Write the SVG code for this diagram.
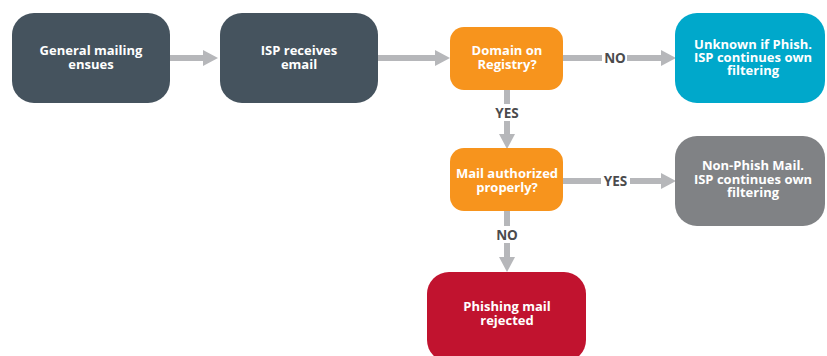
<svg xmlns="http://www.w3.org/2000/svg" width="827" height="356" viewBox="0 0 827 356">
<style>
.t{font-family:"Open Sans","Liberation Sans",sans-serif;font-weight:bold;font-size:13px;fill:#ffffff;text-anchor:middle}
.l{font-family:"Open Sans","Liberation Sans",sans-serif;font-weight:bold;font-size:13.5px;fill:#4b4b4d;text-anchor:middle}
.c{stroke:#b6b7ba;stroke-width:6;fill:none}
</style>
<defs>
<marker id="ah" markerUnits="userSpaceOnUse" markerWidth="15" markerHeight="16" viewBox="0 0 15 16" refX="0" refY="8" orient="auto">
<path d="M0,0 L15,8 L0,16 Z" fill="#b6b7ba"/>
</marker>
</defs>
<rect width="827" height="356" fill="#ffffff"/>
<g id="connectors">
<line class="c" x1="170" y1="58" x2="203" y2="58" marker-end="url(#ah)"/>
<line class="c" x1="378" y1="58" x2="435" y2="58" marker-end="url(#ah)"/>
<line class="c" x1="563" y1="58" x2="602" y2="58"/>
<line class="c" x1="627" y1="58" x2="661" y2="58" marker-end="url(#ah)"/>
<text class="l" x="615" y="63">NO</text>
<line class="c" x1="507" y1="90" x2="507" y2="104"/>
<line class="c" x1="507" y1="121" x2="507" y2="134" marker-end="url(#ah)"/>
<text class="l" x="507" y="118">YES</text>
<line class="c" x1="563" y1="181" x2="601" y2="181"/>
<line class="c" x1="630" y1="181" x2="661" y2="181" marker-end="url(#ah)"/>
<text class="l" x="615.5" y="186">YES</text>
<line class="c" x1="507" y1="210" x2="507" y2="226"/>
<line class="c" x1="507" y1="243" x2="507" y2="257" marker-end="url(#ah)"/>
<text class="l" x="507" y="240">NO</text>
</g>
<g id="general-mailing">
<rect x="12" y="13" width="158" height="90" rx="22" fill="#45535e"/>
<text class="t" x="91" y="55">General mailing<tspan x="91" dy="13.5">ensues</tspan></text>
</g>
<g id="isp-receives">
<rect x="220" y="13" width="158" height="90" rx="22" fill="#45535e"/>
<text class="t" x="299" y="55">ISP receives<tspan x="299" dy="13.5">email</tspan></text>
</g>
<g id="domain-registry">
<rect x="450" y="27" width="113" height="63" rx="14" fill="#f7941d"/>
<text class="t" x="507" y="55">Domain on<tspan x="507" dy="13.5">Registry?</tspan></text>
</g>
<g id="unknown-phish">
<rect x="675" y="13" width="150" height="90" rx="22" fill="#00a8cb"/>
<text class="t" x="753" y="48.5">Unknown if Phish.<tspan x="753" dy="13.5">ISP continues own</tspan><tspan x="753" dy="13">filtering</tspan></text>
</g>
<g id="mail-authorized">
<rect x="450" y="148" width="113" height="63" rx="14" fill="#f7941d"/>
<text class="t" x="507" y="178">Mail authorized<tspan x="507" dy="13.5">properly?</tspan></text>
</g>
<g id="non-phish">
<rect x="675" y="136" width="150" height="90" rx="22" fill="#808285"/>
<text class="t" x="753" y="170">Non-Phish Mail.<tspan x="753" dy="13.5">ISP continues own</tspan><tspan x="753" dy="13">filtering</tspan></text>
</g>
<g id="phishing-rejected">
<rect x="427" y="272" width="159" height="90" rx="22" fill="#c1132f"/>
<text class="t" x="507" y="311">Phishing mail<tspan x="507" dy="13.5">rejected</tspan></text>
</g>
</svg>
